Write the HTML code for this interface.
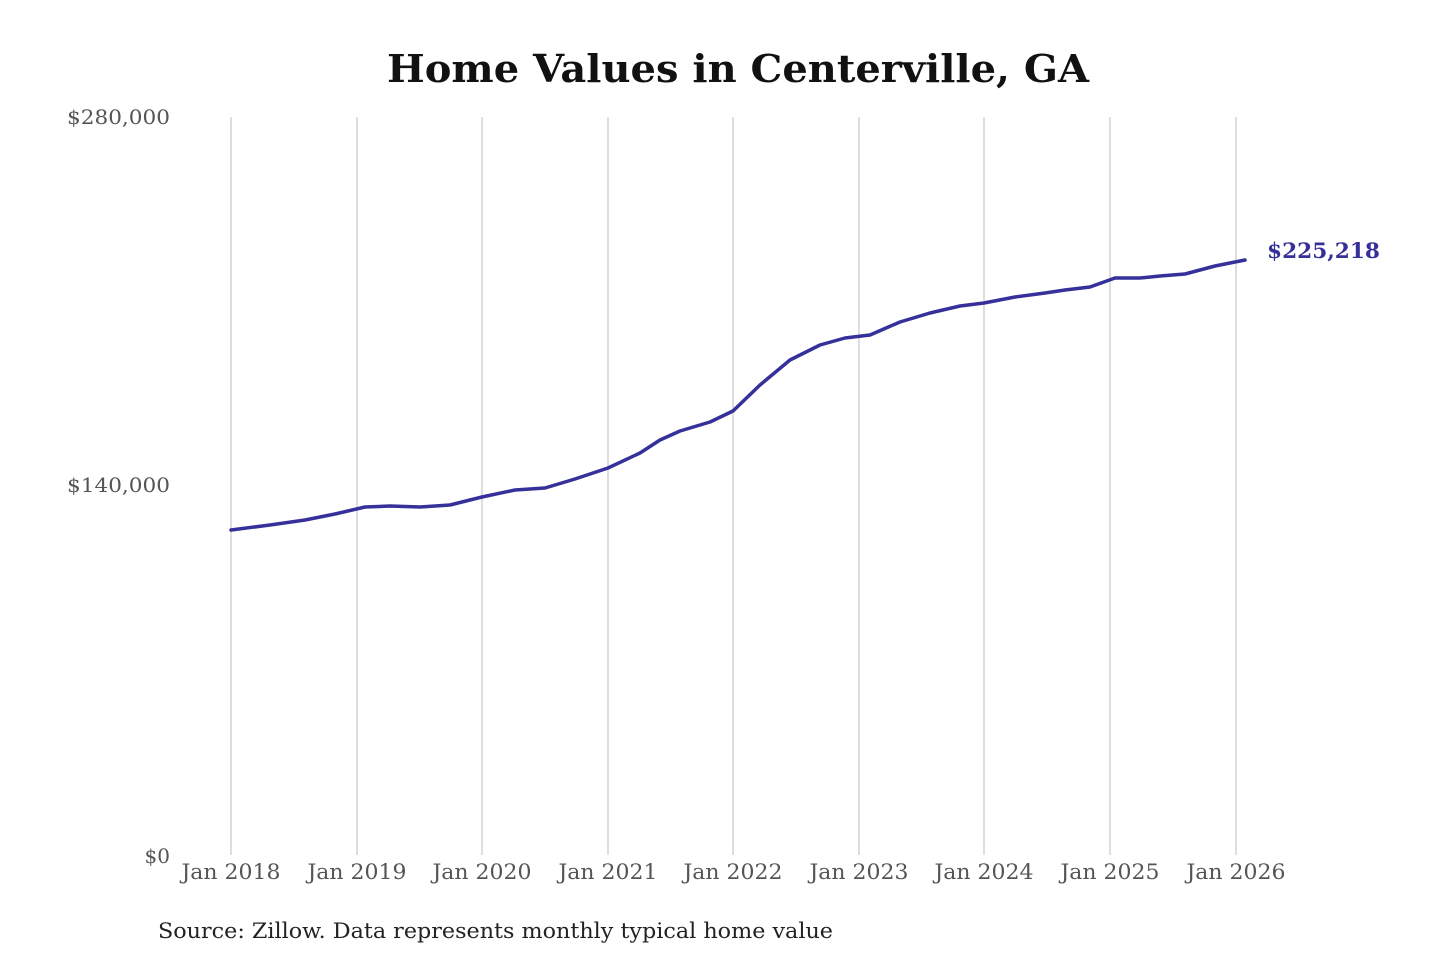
<!DOCTYPE html>
<html><head><meta charset="utf-8"><style>html,body{margin:0;background:#fff}</style></head>
<body>
<svg width="1440" height="960" xmlns="http://www.w3.org/2000/svg" font-family="'DejaVu Serif','Liberation Serif',serif">
<text x="738" y="82" text-anchor="middle" font-size="38" font-weight="bold" fill="#111" textLength="702" lengthAdjust="spacingAndGlyphs">Home Values in Centerville, GA</text>
<g stroke="#c8c8c8" stroke-width="1.2">
<line x1="231" y1="117" x2="231" y2="855"/><line x1="357" y1="117" x2="357" y2="855"/><line x1="482" y1="117" x2="482" y2="855"/><line x1="608" y1="117" x2="608" y2="855"/><line x1="733" y1="117" x2="733" y2="855"/><line x1="859" y1="117" x2="859" y2="855"/><line x1="984" y1="117" x2="984" y2="855"/><line x1="1110" y1="117" x2="1110" y2="855"/><line x1="1236" y1="117" x2="1236" y2="855"/>
</g>
<g font-size="20" fill="#555" text-anchor="end">
<text x="170" y="124" textLength="103" lengthAdjust="spacingAndGlyphs">$280,000</text>
<text x="170" y="492" textLength="103" lengthAdjust="spacingAndGlyphs">$140,000</text>
<text x="170" y="863">$0</text>
</g>
<g font-size="21" fill="#555" text-anchor="middle">
<text x="231" y="879" textLength="99" lengthAdjust="spacingAndGlyphs">Jan 2018</text>
<text x="357" y="879" textLength="99" lengthAdjust="spacingAndGlyphs">Jan 2019</text>
<text x="482" y="879" textLength="99" lengthAdjust="spacingAndGlyphs">Jan 2020</text>
<text x="608" y="879" textLength="99" lengthAdjust="spacingAndGlyphs">Jan 2021</text>
<text x="733" y="879" textLength="99" lengthAdjust="spacingAndGlyphs">Jan 2022</text>
<text x="859" y="879" textLength="99" lengthAdjust="spacingAndGlyphs">Jan 2023</text>
<text x="984" y="879" textLength="99" lengthAdjust="spacingAndGlyphs">Jan 2024</text>
<text x="1110" y="879" textLength="99" lengthAdjust="spacingAndGlyphs">Jan 2025</text>
<text x="1236" y="879" textLength="99" lengthAdjust="spacingAndGlyphs">Jan 2026</text>
</g>
<polyline fill="none" stroke="#35309a" stroke-width="3.5" stroke-linejoin="round" stroke-linecap="round" points="231,530 270,525 305,520 335,514 365,507 390,506 420,507 450,505 482,497 515,490 545,488 575,479 608,468 640,453 660,440 680,431 710,422 733,411 760,385 790,360 820,345 845,338 870,335 900,322 930,313 960,306 984,303 1015,297 1045,293 1065,290 1090,287 1115,278 1140,278 1160,276 1185,274 1215,266 1245,260"/>
<text x="1267" y="258" font-size="21" font-weight="bold" fill="#35309a" textLength="113" lengthAdjust="spacingAndGlyphs">$225,218</text>
<text x="158" y="938" font-size="21" fill="#222" textLength="675" lengthAdjust="spacingAndGlyphs">Source: Zillow. Data represents monthly typical home value</text>
</svg>
</body></html>
